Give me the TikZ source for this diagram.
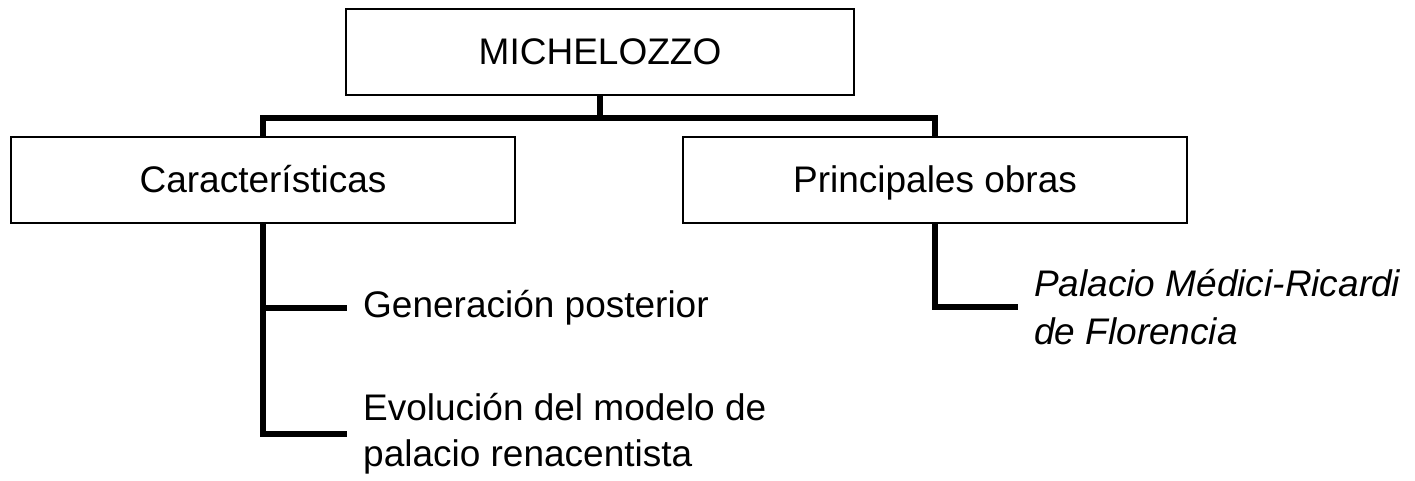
\documentclass[tikz,border=0pt]{standalone}
\usepackage{fontspec}
\setmainfont{Liberation Sans}
\begin{document}
\begin{tikzpicture}[x=1pt,y=-1pt,
  txt/.style={font=\fontsize{37}{46}\selectfont},
  box/.style={txt, draw, line width=2pt, minimum width=504pt, minimum height=85pt,
    inner sep=0pt, text height=26pt, text depth=0pt},
  leaf/.style={txt, anchor=west, inner xsep=16pt, inner ysep=0pt, align=left},
  conn/.style={line width=5.5pt, line join=miter}]
\useasboundingbox (0,0) rectangle (1415,481);
\node[box, minimum width=508pt, minimum height=86pt] (top) at (600,52) {MICHELOZZO};
\node[box] (car) at (263,180) {Características};
\node[box] (pri) at (935,180) {Principales obras};
\coordinate (bar) at (600,118);
\node[leaf] (gen) at (347,308) {Generación posterior};
\node[leaf] (evo) at (347,434) {Evolución del modelo de\\palacio renacentista};
\node[leaf, font=\fontsize{37}{48}\selectfont\itshape] (pal) at (1018,307) {Palacio Médici-Ricardi\\de Florencia};
\draw[conn] (top.south) -- (bar);
\draw[conn] (car.north) |- (bar) -| (pri.north);
\draw[conn] (car.south) |- (gen.west);
\draw[conn] (car.south) |- (evo.west);
\draw[conn] (pri.south) |- (pal.west);
\end{tikzpicture}
\end{document}
